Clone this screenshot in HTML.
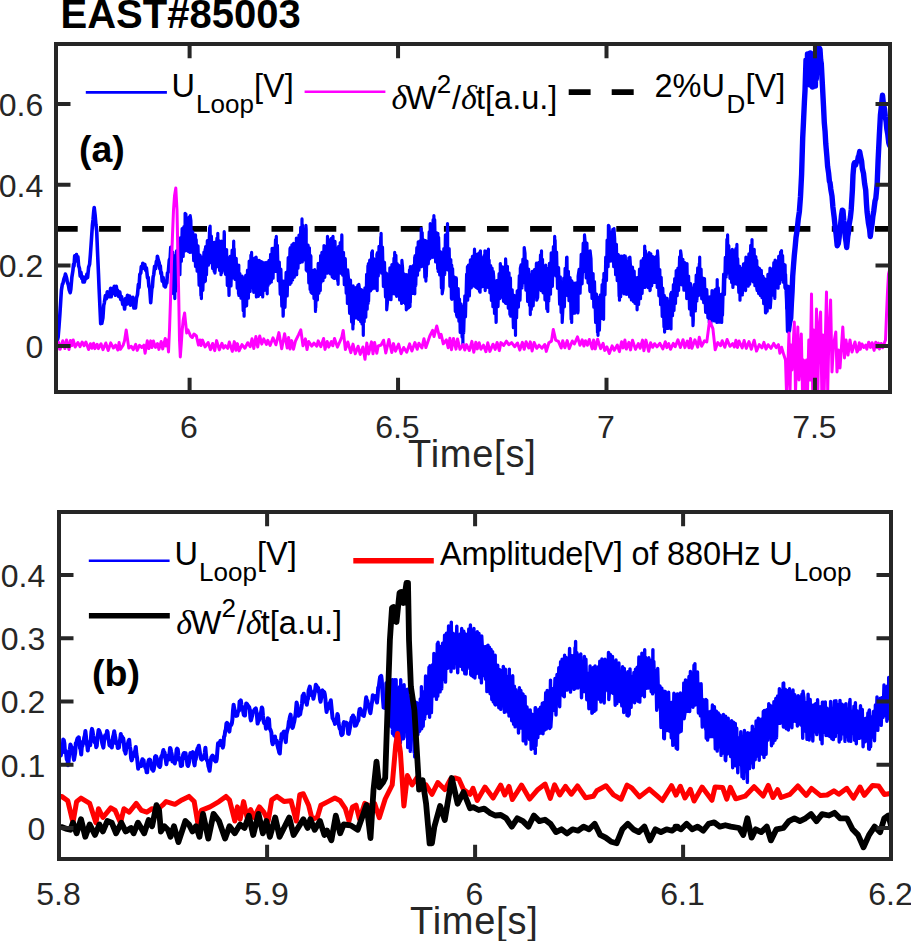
<!DOCTYPE html>
<html><head><meta charset="utf-8"><title>EAST#85003</title><style>html,body{margin:0;padding:0;background:#fff;width:911px;height:941px;overflow:hidden}</style></head><body>
<svg width="911" height="941" viewBox="0 0 911 941" style="display:block;font-family:'Liberation Sans',sans-serif">
<rect width="911" height="941" fill="#fff"/>
<defs><clipPath id="ca"><rect x="56" y="44" width="834" height="348"/></clipPath><clipPath id="cb"><rect x="59" y="512" width="832" height="347"/></clipPath></defs>
<text x="60.5" y="28.3" font-weight="bold" font-size="40" fill="#000">EAST#85003</text>
<g clip-path="url(#ca)"><path d="M56 228.9H890" stroke="#000" stroke-width="5.6" stroke-dasharray="21.7 21.4" fill="none"/>
<path d="M56.5 346.4L57.3 340.5L58.1 337.4L59 326.5L59.8 315.3L60.8 299.7L61.4 290.1L62.4 284L62.9 283.7L64 278.6L64.9 276.5L65.4 274.1L65.9 275.6L66.6 277.9L67.3 281.9L68.4 285.3L69.2 289.9L70.2 292.7L70.8 289.5L71.9 276.9L72.9 270.8L73.5 264.2L74 266.2L74.7 255.9L75.5 259.1L76.5 254.6L77.1 261.2L77.9 256.8L78.6 265.6L79.5 268.5L80.2 276.1L80.9 272.3L81.8 278.4L82.5 277L83 282L83.6 277.1L84.3 282L85.3 278.5L86.2 278.5L86.9 274.1L87.6 277.6L88.6 267.4L89.6 264.3L90.4 254.5L91.2 243L92.4 225.1L93 220L93.7 211.6L94.2 207.5L95.1 214.9L95.9 224.3L96.7 231.3L97.5 251.4L98.5 273.9L99.1 288.9L100.1 310.7L100.7 323.6L101.8 323.3L102.9 317.9L103.7 305.6L104.3 303.1L105.4 295.5L106.3 298.8L107.3 291.7L108 296.6L108.9 292.3L109.6 296.7L110.6 288.4L111.2 296.8L111.9 289.9L112.5 293.6L113 288.2L113.7 293L114.3 286.4L115.4 295.3L116.3 286.4L117.1 292.8L117.6 290.3L118.7 296.4L119.8 292.1L120.7 299.4L121.6 296.7L122.7 304.3L123.6 301.2L124.6 309L125.5 298.6L126.6 304.3L127.5 295.2L128.6 303.4L129.6 296L130.4 305.2L131.1 298L132 303.7L132.9 297.4L133.9 308L134.7 299.9L135.5 307.9L136.5 298.1L137.5 294.5L138.4 284.4L139 287.7L139.8 274.5L140.8 272.8L141.3 266.6L142.2 268.7L142.8 263.2L143.7 267.9L144.8 264.5L145.7 270.3L146.4 268L147.5 277.9L148.2 277.3L148.9 286.4L149.7 288.3L150.7 302.7L151.8 288.8L152.4 287L153.1 277.2L153.8 274.3L154.6 266.2L155.6 268.5L156.4 261.3L156.9 264.1L157.4 256.2L158.3 260.2L159.2 262.8L159.8 268.7L160.3 265.8L160.9 273.6L161.4 272.4L162.2 281.1L163.1 277.4L164.2 286L164.8 282.4L165.4 286.9L166.2 283.1L166.8 283L167.5 273L168.3 272.2L169.3 260.1L170.2 257.8L170.8 247.2L171 251.8" stroke="#0000ff" stroke-width="3.6" fill="none" stroke-linejoin="round"/>
<path d="M171 251.8L172 285.9L172.7 252.1L173.5 293.6L174.6 260.2L174.8 298.6L175.1 255.6L175.5 291.4L176.5 250.8L177.4 285.2L178.5 244.5L179.6 274.6L179.6 241.2L179.9 274.7L180.6 237.5L181.4 261.3L182.1 228.7L183.2 256.4L183.9 226.6L185 250.8L185.1 213.3L185.4 250.8L185.9 214.1L186.7 247.7L187.4 218.8L188.1 251.3L189.1 217.2L189.9 252.4L190 249.3L190.2 215.7L190.9 220.8L191.5 252.2L192.7 231.8L193.7 260.6L194.5 235.2L195.5 266.4L195.5 234.9L195.8 266.7L196.2 239.5L197.1 271.1L198 245.8L199.1 285.2L200 255L200.9 295.5L201.1 258.8L201.4 298.6L201.9 257L202.9 290.3L203.9 252.2L204.6 281.8L205.1 249.2L205.4 281.1L205.6 246.7L206.5 274.8L207.3 240.7L208.4 265.2L209.6 227.7L209.8 262L210.1 226.1L210.7 262.6L211.4 236.2L212.6 268.4L213.3 242.7L214.1 271.3L214.6 242.8L214.8 242.3L214.9 273.1L215.7 264.7L216.9 238.2L217.6 266L217.8 233.3L218.1 266.7L218.6 240.4L219.6 270.4L220.5 242.2L221 274.7L221.3 241.2L221.5 273.1L222.6 242.5L223.3 270L224.2 231.7L224.4 234.1L224.5 269.9L225.6 274.4L226.6 249.6L227.3 285.4L228.1 257.9L229 295.4L229.1 294.7L229.3 258.8L230.2 256.3L231 286L232.1 250.2L233.1 273.7L233.7 241.2L234 277.9L234.2 248.7L235.1 279.4L236.2 258.3L237.2 288.1L238 266.3L238.5 293.8L238.8 265.1L238.9 295.5L239.9 273.7L241 298.2L242.1 276.1L243.2 310.8L243.9 278.9L244.1 316.2L244.4 277.9L244.7 307.1L245.7 275.4L246.6 305.8L247.5 270L248.4 298.2L249.2 261L250.2 291.4L250.9 255L251.3 287.5L251.6 252.4L251.9 284L252.9 260.6L253.7 292.3L254.6 258L255.4 291.3L256.1 257.2L256.2 258.2L256.4 297L257 289.8L257.6 260L258.4 296.3L259.3 260.4L260.4 294.4L261.4 261.7L262.3 293.7L262.4 262L262.7 297L263.4 262.9L264.2 290.4L265.3 262.7L266.2 290.1L267.1 265.5L267.2 293.8L267.5 262L268.1 285.5L269 260.4L269.8 283.1L270.6 254.4L271.4 281.9L272.1 248.3L273.1 278.1L273.7 248L274.5 269L275.5 239.7L276 271.5L276.3 236.4L276.6 269.1L277.4 245.3L278.3 280.8L279.3 262L280.2 294.2L280.9 269.2L281.8 306.1L282.6 283.1L283.1 316.2L283.3 314.5L283.4 281.1L284.1 283L285 307.3L286.1 272.4L287.2 295.9L288.2 257.6L288.9 283.6L290 248.5L290 284.3L290.3 247.6L291.1 282.7L291.9 244.8L292.6 279.9L293.6 243.4L294.3 277.2L295.1 245.8L296.1 274.9L296.4 238L296.7 274.7L297.1 238.6L298 268.2L299 235L299.9 262.7L300.7 227.4L301.6 260.7L302 218.9L302.3 262L302.5 224.9L303.3 256.8L304.2 229.4L305.2 260.1L305.9 225.3L306.2 229.4L306.2 269.9L307 271L308.1 245.2L308.8 283L309.4 247.8L310.1 289.4L310.7 255.6L310.9 256.4L311 292.2L311.9 293.2L313 270.5L314 298.4L314.7 269.7L315.5 311.4L315.8 271.5L315.8 307.4L316.6 273.1L317.4 300L318.2 263.4L318.9 293.2L320 263.4L320.3 290.6L320.6 255.6L321.1 282.3L321.9 252.4L323 280.6L324 245.6L324.8 277.3L325.8 246.3L326.9 273.2L327.5 236.4L327.7 242.3L327.8 273.1L328.9 271.7L329.6 240.2L330.5 274L331.3 238.3L332.2 276.9L333 236.4L333.1 244.4L333.3 277.9L334.2 278.4L335 241.4L336.1 278.1L336.8 248.3L337.7 281L337.8 247.6L338.1 284.3L338.6 246.4L339.4 271.9L340.2 242.6L341.1 273.3L341.8 234.9L341.9 236.4L342.1 271.5L342.7 275.2L343.5 252.3L344.3 284.6L345.3 258.7L346.2 293.2L346.9 270.5L347.4 303.4L347.6 303.4L347.7 269.9L348.7 280.6L349.6 313.3L350.5 280.1L351.6 321.9L352.3 288.5L352.9 328.9L353.2 285.9L353.3 324.4L354.2 293.3L355.1 317.9L355.9 287.5L356.7 317.8L357.8 285.4L358.5 319.3L358.7 315.6L358.8 284.3L359.6 289.7L360.6 321.4L361.4 289.5L362 324L363.1 292.5L363.3 335.3L363.6 290.6L364.2 321.6L364.9 287.9L365.8 317.2L366.6 274.4L367.2 309.1L367.9 265.9L368.1 303.4L368.4 263.5L368.6 301.2L369.7 260.2L370.6 290.8L371.7 252.4L372.1 289.1L372.4 250.8L372.5 283.1L373.6 258.6L374.5 288.2L375.3 259.4L376.3 287.4L376.9 254L377.2 290.6L377.4 252.5L378.3 276L379 246.4L379.7 268.2L380.8 236.8L380.8 266.7L381.1 233.3L381.6 273.2L382.5 247.2L383.4 286.5L384.5 262.4L385.5 296.9L386.4 273.1L386.6 275.7L386.7 309.8L387.5 301.8L388.3 274.6L389 299.2L389.9 267.9L391 299.7L391.9 264.6L392.9 293.7L394 258.1L394.4 293.8L394.7 252.4L395.1 290.3L395.9 255.4L396.6 296.3L397.2 263.6L397.9 294.6L398.6 265.2L399.6 300L400.6 266.1L401.6 303.4L401.8 302.8L401.9 260.4L402.6 268L403.4 302.4L404.4 274L405.5 304L406.3 279.3L406.3 309.8L406.6 274.7L407.2 308.6L407.8 275.1L408.6 307.6L409.5 269.9L410 306.6L410.3 266.7L410.3 302.4L411.2 266.9L412.4 293.5L413.2 265.6L414 289L414.7 257.2L414.8 293.8L415.1 255.6L415.8 285.4L416.8 247.7L417.5 275.1L418.2 241.8L419 270.1L420 240.9L421.1 264.9L421.2 228.5L421.5 266.7L422.2 232.6L422.8 264.5L424 240.2L424.8 277.1L425.6 240.5L425.9 281.1L426.2 241.2L426.3 276.6L427.4 241.7L428.3 263.8L429.2 231.9L429.9 258.8L430.2 251.7L430.2 223.7L431.3 225.1L432.2 257.3L433.1 219.7L433.8 256.5L433.9 215.7L434.2 257.2L434.7 219.7L435.6 261.9L436.8 232.9L437.7 268.7L437.9 233.3L438.2 271.5L438.6 237.4L439.7 274.9L440.7 251.9L441.4 288L441.9 254L442.1 254.2L442.2 293.8L443.1 288.2L443.8 248.7L444.7 274.4L445.4 234.9L446.6 269.4L447.5 223.7L447.6 228.7L447.8 269.9L448.3 267.4L449.2 248.7L449.9 286.3L450.8 259.5L451.4 298.6L451.7 265.1L451.9 299.3L452.6 268.6L453.4 298.6L454.5 277.1L455.3 311.5L456.2 277.9L456.4 279.1L456.5 314.6L457.1 316.8L458.2 288.5L458.9 321.1L459.5 299L460.2 332.5L461 303.8L462.1 337.1L462.6 309.8L462.9 344.8L463 306L463.7 332.9L464.8 295.8L465.5 316.8L466.6 274.1L467.3 300.2L467.4 266.7L467.7 300.2L468.4 265.2L469.4 295.9L470.4 259.8L471.3 287.8L472.4 256.4L473.6 285.9L474.5 249.2L474.7 255.7L474.8 285.9L475.9 287.2L476.7 254.3L477.8 288.6L478.8 253.1L479.5 291.3L480.1 251.7L480.1 292.2L480.4 250.8L481.2 287.3L482.3 257.9L483.2 286.5L484.2 255.4L484.8 284L484.9 250.8L485.2 290.6L485.6 252.8L486.6 284L487.6 250.8L488.1 287.5L488.4 249.2L488.4 284.1L489.1 260L489.9 292.8L490.7 265.7L491.4 300.4L492.1 268.2L492.9 306.6L493 300.5L493.2 271.5L493.7 277L494.5 313.5L495.3 281.6L496.1 322.5L496.2 320.8L496.4 284.3L496.8 280.6L498 306.6L499.1 273.6L500 298.6L500.2 298L500.3 263.5L500.8 270L501.8 295.5L502.6 266.9L503.5 301.3L504.2 268L505.2 302.8L505.6 258.8L505.9 265.5L505.9 303.4L506.7 303.4L507.4 266.4L508.3 308.2L509 272.8L509.9 314.5L510.4 277.9L510.5 281L510.7 316.2L511.2 314.5L512.2 289.8L513.4 327.6L514.2 295.3L514.9 328.1L515.2 297L515.5 335.3L515.6 302.1L516.6 318L517.2 290.8L518.4 307.2L519.3 275.6L520 300.2L520.2 294.1L520.3 268.3L521.1 264.8L522 287.9L522.9 259.1L523.9 282.7L524 281.6L524.2 247.6L525 253.2L525.9 290.2L526.9 261.1L527.6 301.5L528.6 269L529.5 305.5L530 274.7L530.3 314.6L530.4 274.9L531.3 309.5L532.2 271.4L533.2 305.8L534.4 269.7L535.4 295.9L536.4 263.5L536.5 263.2L536.7 300.2L537.7 297.4L538.8 262.4L539.6 289.1L540.5 254.9L541.2 290.6L541.5 250.8L541.5 289.2L542.5 259.4L543.1 292.8L544.1 266.2L545 300L545.7 265.2L546.8 309L547.5 269.9L547.8 311.4L548 268.3L548.8 300.9L549.4 263.4L550.5 294.2L551.2 252.8L552.4 286.3L553.4 246.6L554.1 274.3L554.7 236.4L555 274.7L555.1 240.1L555.9 276L556.6 252.1L557.5 288.3L558.6 267.7L559.6 304.2L560.3 276.9L561.1 312.5L561.9 284.3L562 284.1L562.2 322.5L562.8 311.2L563.7 278L564.4 306.8L565.1 268.3L565.8 292L566.6 257.3L566.7 293.8L567 257.2L567.4 295.6L568.4 271.3L569 300.7L570.1 277.5L571.1 319.2L571.4 281.1L571.7 322.5L571.8 280.8L573 313.5L573.8 283L574.7 313.1L575.4 283.1L576.1 312L577.1 282.6L577.8 313L578.1 310.8L578.1 276.3L579.1 269.4L580.1 293.1L581.2 254.4L582.1 283.8L583.2 243.2L584.2 271.5L584.3 266.7L584.5 234.9L585.2 242.6L586.2 278L586.9 243.1L588 282.8L588.8 252.9L589.8 290.6L590 291.5L590.1 250.8L591 258.8L592 298.4L593.1 273.6L593.8 307.1L594.5 281.6L595.6 322.4L596.5 294.2L597.5 332.5L597.7 297L598 335.3L598.3 301.6L599.4 330.1L600.4 294.9L601.3 318.4L602.1 284.5L603.2 318.7L603.3 279.5L603.6 319.3L603.9 273.4L605 294.8L605.7 257.2L606.5 280.6L607.1 240.1L608.1 266.7L608.1 263.8L608.4 225.3L609.1 226.2L610 261.1L610.8 232L611.8 261L612.8 229.3L613.7 266.7L613.9 262.3L614 228.5L614.7 238.5L615.6 274.7L616.4 244.3L617.2 280.7L618.1 254.4L619.1 296.3L619.2 255.6L619.5 300.2L619.8 260.1L620.7 296.6L621.6 256L622.5 290.2L623.4 256.1L624 293.8L624.3 255.6L624.5 290.4L625.3 256.2L626.3 294.3L627.4 261.3L628.2 294.1L628.8 257.8L629.6 297L629.8 290.7L629.9 257.2L630.6 267.4L631.4 300L632.5 267.2L633.3 301.4L634.2 271.2L634.9 303.3L635.9 278.1L636.6 304.4L636.8 277.9L637.1 309.8L637.5 277.7L638.6 304.4L639.5 269L640.5 298.7L641.2 260.9L642.1 293.5L643.3 258.3L644.3 286.6L644.7 246L645 287.5L645.4 250.5L646.4 281L647.1 254.8L648.2 287.6L649.1 252.6L650 290.6L650.2 289.9L650.3 254L650.8 253.8L651.7 285.8L652.8 256.7L653.5 282.5L654.6 257.3L655.7 282.5L656.7 255.9L657.2 287.5L657.4 281.5L657.5 250.8L658 258L658.9 295.8L659.8 269.5L660.6 304.6L661.2 277.4L662.2 316.4L662.8 288.2L664 326.9L664.3 295.4L664.6 332.1L665 297L666.1 328.4L667.2 298.3L668.3 328.4L669.4 301.1L670.5 322.9L670.7 293.8L671 328.9L671.3 292.4L672.5 315.6L673.4 284.6L674 310.5L674.7 278.5L675.5 303.5L676.2 270.6L677.2 295.6L677.9 268L678.6 290.5L679.6 256.9L680.3 284.3L680.6 279.1L680.6 250.8L681.2 255.2L682 285L682.9 259.4L683.9 290.1L684.8 262.7L685.5 290L686.4 265.4L686.7 298.6L687 263.5L687.5 296.7L688.6 276.1L689.5 308.9L690.6 283.7L691.2 315.1L692.2 288.7L693 325.7L693.3 319.9L693.3 290.6L694.4 284.5L695.4 310.9L696.2 275.1L696.9 300.9L697.7 267.8L698.4 295.7L699.3 263.5L699.4 293.8L699.7 257.2L700 294.2L701.1 269.1L701.7 298.8L702.9 278.1L703.7 302.7L704.5 278.6L705.6 312.3L706.8 289.7L707.9 317.6L709 297L709 300.2L709.3 322.5L709.7 322.5L710.5 296.5L711.1 322.4L712 290.5L712.8 319.1L713.5 292L714.3 320.9L715.1 289.5L715.8 316.6L716.5 288.5L716.9 322.5L717.2 279.5L717.4 317.1L718.3 287.9L719.3 322.1L720.1 294.7L720.8 321.8L721.5 296.6L721.7 322.5L722 293.8L722.5 315.1L723.6 274L724.5 294.5L725.3 257.4L726.2 276.9L726.9 239.4L727.3 271.5L727.6 234.9L728.1 272.8L728.8 245.7L729.9 278.3L730.8 250.9L731.6 282.5L732.3 249.4L732.9 287.5L733.2 250.8L733.2 284.6L734.3 250.7L735.1 283.8L735.8 248.7L736.8 283.7L736.9 244.4L737.2 284.3L737.7 258.6L738.8 292.5L739.7 266.3L740 300.2L740.3 268.3L740.4 294.9L741.4 268.7L742.4 294.9L743.5 263.9L744.5 288.3L745.3 262.7L745.6 290.6L745.9 257.2L746.2 286.5L747.2 259.3L748.2 286.1L748.9 253.8L749.7 284.1L750.7 245.4L751.7 280.9L752 239.6L752.3 281.1L752.6 249.7L753.3 281.9L754.2 249.4L754.9 285.6L755.8 256.5L756.8 289.3L756.8 260.4L757.1 290.6L757.6 266.9L758.6 293.4L759.4 268.3L760.3 295.5L761.3 270.3L762 297.7L763 276.3L763.7 303.6L764.7 278.9L765.5 312.8L765.5 279.5L765.8 313L766.3 280.1L767.2 311.1L767.9 274.4L768.9 301.9L770 268.1L770 270.8L770.3 308L770.9 299.5L771.9 269L772.9 295.1L773.8 262.7L774.8 298.4L774.9 291.3L775.1 260.1L775.6 260.7L776.6 287.7L777.3 261.4L778.1 288.2L778.7 256.3L779.6 283.5L780.6 251.9L781.2 279.3L781.5 250.6L781.7 275.1L782.6 255.6L783.2 282.2L784 264.4L784.9 287.6L785.1 264.9L785.4 288.8L785.6 274.4L786.7 308.2L787.4 287.2" stroke="#0000ff" stroke-width="3.2" fill="none" stroke-linejoin="round"/>
<path d="M787.4 287.2L788.5 330.7L789.5 322.9L790.7 318.1L791.4 303.2L792.1 291L792.7 276.1L793.4 266.9L794.3 255.5L795.2 246.5L796 237.5L797.2 229.7L798.3 218.8L799.4 211.3L800.5 196.5L801.6 174.4L802.7 137.8L803.5 121.6L804.4 102L805 90.8L806 60L806 60.1L806.3 80L807 80L807.5 54L807.8 83L808.1 54.4L808.9 81.2L809.9 53.8L810 85L810.3 53L810.9 84.5L812 55.5L812.5 87L812.7 82.9L812.8 56L813.5 54.5L814.6 83.7L815.3 52.4L815.4 86L815.7 50L816.3 78.9L817.3 47.5L817.5 70L817.8 47L818.1 66.1L818.8 48.7L819.5 48.3L820 49.4L820.7 60.2L821.3 63.8L822.3 83L823.5 106L824.3 122.8L825.1 131.8L825.8 144.1L826.9 156.8L827.6 166.4L828.6 173.1L829.4 181.2L830 182.7L830.8 189.2L832 196.1L832.9 207L834.1 216.6L835.3 228.6L836 233.3L837.2 245.7L838.3 243.6L839.1 237.9L839.8 230.7L840.3 227.2L841.5 215.3L842.3 210.1L843 210.7L843.8 220.8L844.5 226.4L845.3 236.9L846.1 242.4L846.7 247.5L847.8 236.2L848.4 233.1L849.2 224.3L850.4 217.3L851.2 209.7L852.4 190L853 174.9L853.9 164.4L854.5 162.8L855.6 165L856.5 161.7L857.5 161.1L858.2 157.1L858.7 156.5L859.7 151.6L860.5 156.2L861.6 161L862.3 168.5L863.5 173.4L864.6 183.5L865.7 190L866.5 204.1L867.1 212.2L868.4 222.9L869.6 229.3L870.3 236.5L871.3 228L872.1 223.7L872.8 216.9L873.8 210.7L875 201.1L875.8 198.4L876.4 192.3L877.2 183.1L878.1 160.3L879.3 135.9L880.4 115.3L881.5 105.2L882.5 95.3L883.5 104.7L884.5 108.8L885.3 116.6L886.2 122.1L886.8 128.7L887.7 133.7L888.8 142.9L889.6 145.5" stroke="#0000ff" stroke-width="5.4" fill="none" stroke-linejoin="round" stroke-linecap="round"/>
<path d="M56 353.3L58.6 342.3L60.1 349.3L62.8 340.8L64.9 348.5L66.5 339.9L69 349.5L70.4 340.4L71.9 345.6L73.2 339.9L75.2 347L77.9 342.5L80 346.6L82.1 342L84.1 345.7L85.9 342L88.6 349.5L90.4 343.8L91.9 348.3L93.6 343.2L94.9 348.6L97.1 344.3L98.4 348.6L101 343.8L103 349.7L105.8 343L108.2 350.5L110.7 342.9L113.4 348L115.6 345.1L117.9 350L119.1 342.6L120.5 349.2L123.1 345.2L124.5 340.9L126.2 329.9L128.8 348.1L131.3 346.3L133.3 349.6L135.7 344.4L137.2 350.4L139.5 345.3L141.7 347.4L143.9 345.2L145.1 353.2L147.3 340.8L148.9 348.6L150.7 340.9L151.9 347.6L153.4 341L155.4 347.4L157.5 343.6L158.9 349.4L161.2 341.5L162.7 349L165.2 338.5L166 346L167.5 340L168.5 352L169.5 330L170.5 300L171.5 262L172.5 235L173.5 210L174.5 196L175.8 188L177 210L178 260L178.8 300L179.5 340L180.3 357L181.2 345L182.2 330L183.2 320L184.6 313L185.5 322L186.7 333L188 330L189.3 333L190.5 336L192.3 337.5L194 334L196.4 336L198.4 345L200 340L201 345.5L202.5 340.1L205.1 346.9L208.1 342.5L210.5 349.7L212.6 343.5L214.7 350.6L216.6 340.6L219.3 349.9L221.9 343.3L223.6 348.1L225.4 345.7L227.7 348.3L229.3 342L232.3 351.4L234.3 341.6L235.9 350.3L237.4 343.6L239.1 350.9L242 344.6L244.9 348.2L247.7 342.7L250.2 346.7L252 338.8L253.8 348.6L255.9 336.5L257.7 347.1L259.7 335.9L261.8 344.1L263.7 338.9L266.4 344.4L267.8 340.3L270.1 345.5L273 337.8L275.9 344.8L278.9 332.6L281.7 348.7L284.6 333.8L287.2 347.9L288.6 337.4L290 349.1L291.7 340.6L293.5 349.2L295.5 341L298.5 334.9L300.8 329.9L303 345.8L305.4 338.9L307 349.6L308.7 341.5L311.8 346.1L313.9 343.1L316.8 346.2L318.2 340.9L320.8 346.7L323.6 338.5L325 349.4L327.2 341.5L328.7 347.1L331.4 341.5L332.8 345.8L334.5 338.5L337.4 347.1L339.7 342L341.8 337.1L343.2 330.4L345.4 349.5L347.8 342L350.8 352.6L353 344.1L355.3 353.8L358.1 346.2L360.2 354.5L362.9 347L365 359.3L366.8 343.1L368.6 353.9L371.5 341.9L373 353.8L374.6 342.5L376.8 353.3L378.2 346L381.1 345L383.6 340.2L385.8 353L388.9 339.4L391.8 352.5L393.5 343.6L395.5 351.2L398.6 344.1L401.1 353.7L403.7 347.5L406.7 352.2L409.6 343.9L411.9 351L414.9 342.6L417.2 349.3L418.9 343.2L421.9 347.9L424 338.7L425.9 347.6L427.8 342L429.8 336L432.6 330.4L434 336.5L436.8 326L439.6 337.5L441.1 334.4L443.3 343.8L446.3 339.9L448.2 347.7L449.9 338.2L451.5 349.8L453.5 338.5L456 349.1L457.5 338.9L460 349.3L463 344.5L464.8 350L466.5 344.6L469.4 350.5L471.9 341.4L473.8 352.3L475.8 342.2L477.3 348.9L479.2 342.8L480.9 349.2L483.5 345.2L485.9 351.6L487.8 342.8L489.9 351.4L493 344.2L495.2 349.4L497.1 342.5L499.3 350.6L500.9 342.6L503.7 345.4L506.5 341.2L508.8 344.7L511.6 342.6L514.6 346.7L517.5 343L519.8 350.1L522.4 342.3L524.2 349.3L526.1 341.7L528.7 348L530.3 341.9L532.1 351L534.1 342.5L536.8 348.3L539.1 345.2L542 348.2L544.8 344.5L546.3 351.4L548.9 342.7L551.5 341.1L553.3 329.6L555.7 340.1L558.4 341.3L561.2 348L562.7 340.8L564.9 347.7L567.2 340.6L569.2 348.6L572.3 341L574.4 344L577.5 336.8L580 345.3L582.2 339.9L583.9 346L585.5 340.7L587.4 345.3L589.3 339.5L592.2 348.9L593.6 339.9L595.3 348.9L597.6 339.3L600.6 348.6L603.1 343.3L604.7 350.4L607 346.9L609.3 353.5L612.1 345.9L614.3 350.3L617.3 345.1L619.4 351.6L621.6 341.8L623.1 347.9L624.9 340L626.3 349.1L628.9 342.4L630.5 349.9L632.5 340.2L635.5 349.4L638.3 343.6L640.1 348.3L642.5 340.1L643.9 350.7L645.9 340.1L648.7 351.3L650.6 342.8L652.7 347.3L654.6 343.7L657 346.9L659.8 343.3L662.8 348.9L665.3 341.7L666.8 347.6L668.7 343.6L670.5 349.3L673.3 343.4L675.2 346.7L677.9 339.8L680.4 347.5L683 339.7L684.9 347.6L687.3 341.1L689 347.8L690.5 338.5L691.9 348.3L694.9 339.8L697.7 347.2L699.3 337.3L701.6 346.2L704.5 340.8L706.8 341.9L709.5 321.3L710.9 323.8L712.9 328.6L715.2 349.8L717.8 342.6L720.6 345.7L722.2 340.8L724.8 347.3L727.1 339.5L729.9 346.3L732.7 343.7L734.4 347L735.9 340.2L737.5 347.5L739.1 341L742.2 348L744.1 340.5L746.3 348.4L749 341.6L751.3 349.3L754.2 340.2L756.5 351.1L759.3 344.6L761.9 347.9L763.9 342.4L766 349.1L768.1 344.7L771 348.4L773.7 343.4L776.1 347.6L778.4 344.6L779.9 353.2L781.6 347.3L783.8 354.8L785.5 360L786.5 392L788 362L789 333L790 392L791 345L792 370L794.3 322L795.5 392L797.8 327L799 380L801.3 334L802.5 392L803.5 360L805 392L806.5 360L807.5 392L808.8 340L810 380L811.5 294L812.7 392L813.8 330L815 392L816.5 309L817.8 392L819 330L820.6 312L821.8 392L823 335L824.2 392L825.3 340L826.5 292L827.7 392L828.8 340L830.6 300L832 372L833.5 345L835.8 332L837 372L838.5 350L840 368L842.8 327L844.5 358L846 340L848 355L850 340L852 352L855 342L857 352L858 350.4L859.3 342.7L860.3 349.2L862 344L863.9 347.4L865.7 345.2L866.8 349.2L868.7 342.2L870.5 347.4L872.1 342.7L874.1 350.4L875.7 342.2L877.1 347.6L878.5 343.1L879.5 348.9L881.2 343.5L882.7 347.8L885.5 340L886.5 315L887.5 292L888.5 274L890 268" stroke="#ff00ff" stroke-width="3" fill="none" stroke-linejoin="round"/></g>
<rect x="56" y="44" width="834" height="348" fill="none" stroke="#262626" stroke-width="4"/>
<path d="M189.6 392V377.8M189.6 44V58.2M398.05 392V377.8M398.05 44V58.2M606.5 392V377.8M606.5 44V58.2M814.95 392V377.8M814.95 44V58.2M56 346H70.5M890 346H875.5M56 265.4H70.5M890 265.4H875.5M56 184.7H70.5M890 184.7H875.5M56 104.1H70.5M890 104.1H875.5" stroke="#262626" stroke-width="4" fill="none"/>
<g font-size="32" fill="#262626"><text x="189.0" y="437.5" text-anchor="middle">6</text>
<text x="397.4" y="437.5" text-anchor="middle">6.5</text>
<text x="605.9" y="437.5" text-anchor="middle">7</text>
<text x="814.4" y="437.5" text-anchor="middle">7.5</text>
<text x="43.2" y="357.8" text-anchor="end">0</text>
<text x="43.2" y="277.2" text-anchor="end">0.2</text>
<text x="43.2" y="196.5" text-anchor="end">0.4</text>
<text x="43.2" y="115.9" text-anchor="end">0.6</text></g>
<text x="471.9" y="466.7" font-size="38" text-anchor="middle" textLength="127.6" lengthAdjust="spacing" fill="#262626">Time[s]</text>
<g font-size="32.5" fill="#000">
<path d="M85.8 92.4H166.9" stroke="#0000ff" stroke-width="2.6"/>
<text x="171.5" y="96.5">U</text><text x="196.0" y="112.7" font-size="26">Loop</text><text x="254.1" y="96.5">[V]</text>
<path d="M304.6 91.7H385.4" stroke="#ff00ff" stroke-width="2.6"/>
<text x="391.4" y="109.3" font-family="Liberation Serif" font-style="italic" font-size="34">&#948;</text><text x="405.9" y="108.9">W</text><text x="436.7" y="92.6" font-size="26">2</text><text x="452.1" y="108.9">/</text><text x="461.0" y="109.3" font-family="Liberation Serif" font-style="italic" font-size="34">&#948;</text><text x="476.0" y="108.9">t[a.u.]</text>
<path d="M568.7 92.1H590.6M611.7 92.1H633.7" stroke="#000" stroke-width="5.6"/>
<text x="654.5" y="96.5">2%U</text><text x="726.4" y="112.7" font-size="26">D</text><text x="745.5" y="96.5">[V]</text>
</g>
<text x="79" y="161.8" font-weight="bold" font-size="37.5" fill="#000">(a)</text>
<g clip-path="url(#cb)"><path d="M59 754.9L59.6 752.1L60.2 755.1L60.8 755.5L61.4 752.4L62 752.2L62.6 750.3L63.2 739.6L63.8 740.2L64.4 743.4L65 752.3L65.6 750.6L66.2 754.5L66.8 759.4L67.4 759L68 765.3L68.6 761.6L69.2 753.9L69.8 749.8L70.4 744.5L71 746.2L71.6 747.8L72.2 747.7L72.8 751.4L73.4 756.6L74 759.9L74.6 756.5L75.2 752.9L75.8 743.2L76.4 743.1L77 739.9L77.6 738.3L78.2 739.2L78.8 737.3L79.4 743L80 748.2L80.6 749.4L81.2 754.5L81.8 747.1L82.4 745.9L83 741.5L83.6 741.8L84.2 737.6L84.8 735.7L85.4 731.1L86 736.4L86.6 743.8L87.2 745.3L87.8 750.6L88.4 743.5L89 743.5L89.6 742L90.2 745.2L90.8 739.8L91.4 731.9L92 728.9L92.6 731.2L93.2 735.8L93.8 738.8L94.4 741.8L95 742.8L95.6 741.9L96.2 747.2L96.8 745.9L97.4 737.8L98 734.1L98.6 729.9L99.2 730.7L99.8 732.4L100.4 734.1L101 735.8L101.6 739.8L102.2 743.2L102.8 745.5L103.4 747.6L104 741.8L104.6 737.4L105.2 735.3L105.8 737.2L106.4 735.9L107 731L107.6 732.2L108.2 738.5L108.8 740.4L109.4 745.1L110 745.6L110.6 742.2L111.2 746.1L111.8 747.4L112.4 742.9L113 736.8L113.6 735L114.2 731.3L114.8 735.2L115.4 737.9L116 743.3L116.6 742.7L117.2 743.8L117.8 748L118.4 746.9L119 747.4L119.6 741.7L120.2 738.9L120.8 734L121.4 737.7L122 736.5L122.6 741.4L123.2 738.1L123.8 742.2L124.4 750.2L125 751.3L125.6 753.6L126.2 748.6L126.8 746.9L127.4 746.1L128 743.2L128.6 740.8L129.2 739.8L129.8 746.3L130.4 749.1L131 757.8L131.6 760.4L132.2 759L132.8 755.7L133.4 756.3L134 755.4L134.6 751.7L135.2 750.9L135.8 746.9L136.4 753.9L137 757.3L137.6 763.2L138.2 768.7L138.8 765.3L139.4 766.1L140 766.1L140.6 765.4L141.2 765.9L141.8 761.2L142.4 759.2L143 760.3L143.6 760.2L144.2 765.6L144.8 765.3L145.4 767.8L146 768L146.6 772.2L147.2 772.3L147.8 764.9L148.4 761.4L149 759.8L149.6 759.5L150.2 760L150.8 763.8L151.4 763.9L152 769.4L152.6 768.6L153.2 770.8L153.8 769.3L154.4 765.3L155 756.9L155.6 756.1L156.2 756.5L156.8 758.3L157.4 760.9L158 760.1L158.6 765.5L159.2 766.4L159.8 766.9L160.4 765.4L161 757.8L161.6 755.9L162.2 756L162.8 752.4L163.4 750L164 753.4L164.6 752.4L165.2 757.9L165.8 760L166.4 764.2L167 759.9L167.6 756.5L168.2 755.7L168.8 759.6L169.4 754.4L170 747.9L170.6 748.9L171.2 751.9L171.8 754.5L172.4 761.4L173 759.2L173.6 760.5L174.2 761.6L174.8 763.5L175.4 759L176 756.3L176.6 749.6L177.2 748.6L177.8 749.4L178.4 755.2L179 759.9L179.6 759.9L180.2 760.3L180.8 766.1L181.4 765.6L182 765.6L182.6 758.1L183.2 754.6L183.8 753.2L184.4 753L185 755.9L185.6 753.3L186.2 758.6L186.8 759.9L187.4 765L188 766L188.6 764.3L189.2 761.5L189.8 756.5L190.4 753.1L191 756.2L191.6 753.2L192.2 753L192.8 752.1L193.4 756.9L194 762.6L194.6 765.4L195.2 759.4L195.8 759.3L196.4 753.7L197 750.4L197.6 748.3L198.2 747.3L198.8 745.7L199.4 749.3L200 753.4L200.6 757.3L201.2 759L201.8 759.6L202.4 756.6L203 758.8L203.6 756.8L204.2 756.2L204.8 752.8L205.4 747.7L206 754.8L206.6 759.4L207.2 760.7L207.8 761.7L208.4 766.2L209 768L209.6 770.7L210.2 765.2L210.8 759.9L211.4 757.2L212 756.3L212.6 755.5L213.2 756.4L213.8 758L214.4 760.1L215 759.9L215.6 761.4L216.2 761.3L216.8 758.7L217.4 750.7L218 743.3L218.6 743.5L219.2 745.2L219.8 744.2L220.4 740.7L221 742.9L221.6 743L222.2 745.7L222.8 747.6L223.4 745L224 736.8L224.6 735.7L225.2 731L225.8 729.7L226.4 723.6L227 722.9L227.6 723.5L228.2 727.9L228.8 729.7L229.4 731.6L230 726.2L230.6 725L231.2 725.1L231.8 723.6L232.4 719.4L233 710.4L233.6 704.7L234.2 708.1L234.8 710.4L235.4 713.9L236 715.9L236.6 712.6L237.2 715.6L237.8 712.4L238.4 711L239 710.6L239.6 701.5L240.2 702.8L240.8 700.4L241.4 704.6L242 708L242.6 707.1L243.2 711.6L243.8 714.8L244.4 715.6L245 715.5L245.6 708.3L246.2 703.4L246.8 703.8L247.4 704.9L248 705.6L248.6 706.5L249.2 707.3L249.8 709.7L250.4 718L251 720.4L251.6 717.8L252.2 715.4L252.8 711.3L253.4 711.5L254 711.6L254.6 709.6L255.2 708.9L255.8 708.3L256.4 711.6L257 716.5L257.6 723.6L258.2 721.5L258.8 720.5L259.4 719.3L260 715.4L260.6 713.4L261.2 711.5L261.8 707.4L262.4 708.6L263 715.9L263.6 721.1L264.2 723.2L264.8 722.8L265.4 724.1L266 728.8L266.6 726.6L267.2 723.6L267.8 718.3L268.4 721.1L269 719.1L269.6 728.1L270.2 729.4L270.8 730.7L271.4 732.8L272 741.4L272.6 744.2L273.2 743.1L273.8 742.5L274.4 741.2L275 736.5L275.6 740.7L276.2 740.5L276.8 740.8L277.4 745.1L278 747.6L278.6 749.7L279.2 752.5L279.8 753.5L280.4 744.8L281 740.4L281.6 734L282.2 736.1L282.8 734.8L283.4 732.1L284 731.5L284.6 733L285.2 739L285.8 742.1L286.4 734.4L287 731.6L287.6 729.3L288.2 727.2L288.8 721.9L289.4 719.7L290 716.5L290.6 714.6L291.2 721.5L291.8 726.3L292.4 727.9L293 726.9L293.6 724.1L294.2 721.8L294.8 718.2L295.4 715.4L296 709.5L296.6 702.5L297.2 704.9L297.8 711.6L298.4 715.7L299 713.7L299.6 713.8L300.2 714.3L300.8 710.2L301.4 708.3L302 703.5L302.6 695.6L303.2 695.4L303.8 693.7L304.4 698.6L305 701.6L305.6 701.1L306.2 699L306.8 704.8L307.4 700.2L308 698.8L308.6 690.6L309.2 688.5L309.8 686.6L310.4 690.5L311 691L311.6 695.2L312.2 693.8L312.8 695.7L313.4 698.8L314 695.9L314.6 693.2L315.2 689.3L315.8 684.8L316.4 685.7L317 688.5L317.6 687.2L318.2 688.3L318.8 691.8L319.4 693L320 699.3L320.6 701.7L321.2 698L321.8 690.9L322.4 690.3L323 692.5L323.6 691.7L324.2 692.1L324.8 694.3L325.4 699L326 706.9L326.6 712L327.2 708.5L327.8 709L328.4 705.8L329 707.9L329.6 703L330.2 703.6L330.8 700.3L331.4 706.3L332 712.5L332.6 718.4L333.2 718.8L333.8 720.6L334.4 721.6L335 723.9L335.6 722.1L336.2 722L336.8 719.1L337.4 713.9L338 715.7L338.6 723.1L339.2 726.4L339.8 728.8L340.4 727.7L341 733.3L341.6 735.2L342.2 734.6L342.8 733.7L343.4 723.6L344 722L344.6 722.5L345.2 724.8L345.8 724L346.4 722.7L347 723.7L347.6 728.5L348.2 733.7L348.8 733.9L349.4 730.6L350 727.7L350.6 722.4L351.2 721.6L351.8 717.4L352.4 718.6L353 715.5L353.6 716.7L354.2 717.5L354.8 725.8L355.4 724.5L356 725.3L356.6 724.1L357.2 722.1L357.8 721.1L358.4 720.1L359 712.5L359.6 709.2L360.2 708.8L360.8 709.7L361.4 713L362 714.5L362.6 715.1L363.2 713.9L363.8 716L364.4 713.4L365 709.4L365.6 702.1L366.2 697.2L366.8 701.4L367.4 700.9L368 705L368.6 704.6L369.2 708.3L369.8 711.2L370.4 713.3L371 709.1L371.6 704.4L372.2 701.1L372.8 695.3L373.4 698.9L374 695.9L374.6 697.7L375.2 697.7L375.8 696L376.4 700.2L377 702.5L377.6 696.6L378.2 687.7L378.8 687.1L379.4 681.9L380 677.4L380.6 676.4L381.2 675.8L381.8 680.5L382.4 691.5L383 699.9L383.6 707.5L384.2 707.8L384.8 705.8L385.4 707.3" stroke="#0000ff" stroke-width="4" fill="none" stroke-linejoin="round"/>
<path d="M385.4 707.3L386 683L386.7 713.7L387.6 685.7L388.5 719.5L389.7 687.9L390.3 726L391 692.9L392 727.7L392.2 679.7L392.5 733.5L392.7 679.7L393.9 735.4L394.6 679.7L395.2 737L396.1 679.7L396.9 733.1L397.9 690.9L398.9 729.5L399.6 686.8L400.4 742.9L400.5 733.2L400.7 679.7L401.1 695.7L402 739L402.7 687.1L403.5 738.7L404.1 684.7L405.3 730L406.2 702.2L407.1 737.3L407.4 689.1L407.7 747.6L407.9 702.8L408.6 739.3L409.6 705L410.3 751.4L410.9 696.1L412 738.6L413.1 715.4L414.2 752.4L414.4 703.1L414.7 756.9L415 701.7L415.8 751.1L416.9 702.6L417.9 734.8L419 703.4L419.7 731.2L420.3 698.9L421.3 723.1L421.4 686.8L421.7 728.8L422 696.8L423.2 726.3L424 691.7L424.7 718.9L425.6 676L426.3 713.8L427.4 682.4L428.1 705.5L429 667.3L429.6 717.2L429.7 702.7L429.9 665.7L430.5 674.4L431.4 712.6L432.6 664.6L433.2 696.1L433.9 653.4L434.9 695.9L435.8 657.2L436.5 699.4L437.3 643.8L437.8 696.1L437.9 690L438.1 642.3L439 654.9L440.1 691.9L440.8 646.4L441.7 688.9L442.6 643.2L443.4 679.3L444.6 635.1L445.5 682.1L446.5 633.1L447.7 668.2L448.6 625.9L449.8 665.4L450.6 625.9L451 671.8L451.3 622.1L451.8 664.7L452.9 633.2L454 668.1L454.8 634.2L455.8 663L456.8 626.1L457.7 672.8L458.4 635.3L459.2 663.2L460.2 634L460.9 666.4L461.7 628.5L462.7 669.7L463.8 631.3L464.8 673.8L465.5 634L466.2 674L467.1 638.2L467.9 666.4L468.8 628.9L469.9 668.6L470.4 624.9L470.6 637.4L470.7 674.6L471.4 675.4L472.3 633.6L473.2 676.7L473.9 628.4L474.9 678L475.6 635.3L476.4 673.7L477.3 631.8L478.2 672.9L479 633.5L479.8 677.7L480.6 638.6L481.4 682.9L481.6 673.1L481.7 635.9L482.5 650L483.6 675.6L484.8 646.8L485.5 679.1L486.2 646.4L486.9 691.6L488 645.1L488.7 681.3L489.4 647.1L490.1 693.8L491.1 649.4L491.8 699.5L492.6 651.6L493.3 701.9L494.1 660.6L494.8 704.3L495.2 655.3L495.5 705L495.9 669.3L496.9 699.8L497.7 665.2L498.8 707.8L499.8 669.8L500.8 709.4L501.5 670.8L502.6 705.7L503.3 666.4L504.4 712.4L505.4 669.2L506.1 703.3L506.7 677.9L507.8 712.1L508.7 676L509 716.1L509.3 669.1L509.7 709.4L510.6 682.7L511.7 720.8L512.7 675.7L513.6 724.2L514.4 686.2L515.1 726.9L515.9 689.8L516.6 717.5L517.6 695.7L518.5 733L519.4 687.8L520.2 728.1L520.9 690.5L522 727.2L522.9 693.9L523 694.1L523.2 740.9L524 730.2L525.1 696.5L525.9 744L527 707L527.7 735.9L528.3 710L529.5 739.5L530.2 709.9L531.2 749.3L532 714.3L532.6 741.4L533.5 716.9L534.4 748.8L535.2 707.7L535.3 753.4L535.6 707.8L536 745.8L537.1 715.6L537.8 737.6L539 709.1L539.7 733.3L540.5 707.3L541.6 733.1L542.3 703.3L543 733.8L543.7 702.7L544.7 730L545.7 692.7L546.4 729L547.2 690.4L547.8 724.4L548.8 695.7L549.7 728.5L550.5 680.1L550.6 688.8L550.8 727.1L551.8 711.4L552.8 688.7L553.9 710.2L555 678.5L556 715L557 674.5L558 701.9L558.8 667.8L559.7 706.8L560.6 661.8L561.4 693.9L562.1 659.1L563.3 695.9L564.2 663.3L564.3 696.7L564.6 655.3L565 690.3L566.1 657.4L567.1 690.1L567.8 659.5L568.6 685.1L569.6 648.5L570.5 692.1L571.2 655.4L572.3 685.8L573 655.8L574 689.4L575 647.8L575.3 688.4L575.6 641.4L575.9 684.5L576.9 652.7L578 688L578.9 655.3L579.7 685.8L580.8 654L581.5 697.7L582.5 664.5L583.6 691.5L584.4 656.5L585.3 691.8L585.9 659.1L586.8 699.7L587.8 673.1L588.9 708.8L590.1 666L591 708.2L591.8 675.7L591.9 713.3L592.2 669.1L592.5 712.8L593.4 667.5L594.2 711.4L595.1 665.9L595.9 710L596.6 671.6L597.7 696.3L598.5 666.6L599.1 699.3L599.8 661.1L600.8 702L601.9 659L602.8 699L603.5 669.4L604.2 703L605 659.2L606 689.1L606.7 661.5L607.8 690.9L608.5 652.5L608.7 652.8L608.8 699.5L609.5 691L610.3 654.4L611.4 692.6L612.5 656.5L613.3 693.5L614.2 669.8L615.2 705.2L616 660L616.8 703.6L617.5 668.6L618.1 698.5L618.9 663L620 701.6L621 673.4L621.8 705.9L622.6 666.7L623.7 712.5L624.3 668.4L625.4 709.4L626.1 678.2L627 715.4L627.8 671.8L628.1 679.4L628.1 716.1L629.2 714.4L630 668.9L631.1 707.4L632.1 676.8L632.9 701.3L633.9 672.5L634.6 702.7L635.5 669.2L636.3 698.8L637.2 667.1L638 701.2L638.9 657L639.8 702.1L640.4 664.1L641.1 695.7L641.9 653.1L643 685.6L644 654L644.4 696.7L644.7 649.7L644.8 689.2L645.5 657.3L646.5 688.2L647.3 659.3L648.1 688.1L648.8 657.7L649.6 685.2L650.5 660.3L651.2 691.7L652.4 660.3L652.6 693.9L652.9 649.7L653 690.6L653.8 661.4L654.9 691.7L655.9 671L656.7 710.3L657.7 668.5L658.8 706.8L659.9 685.9L661 727.5L661.8 688.1L662.4 722.5L663.6 703L663.7 738.2L664 691.2L664.4 738.7L665.3 691.5L665.9 730.7L667 701.2L667.8 730.5L668.6 692.2L669.6 731.3L670.4 702.4L671.3 737.9L672.1 702.3L672.8 745.4L673.9 693.2L674.5 740.7L675.5 708.2L676.2 748.2L677.2 693.9L677.5 749.2L677.8 693.9L678 733.8L679 697.2L679.7 732L680.4 693L681.2 731.3L682.2 696.9L683.3 714.1L683.8 682.9L684 691.5L684.1 718.8L684.9 713.6L685.5 679.9L686.3 711.4L687.1 681.3L687.9 711.2L689 676.5L689.7 711.5L690.4 671.4L691.4 700.3L692.1 677L693 707.3L694 665.2L694.9 695.8L694.9 663.6L695.2 705L696 672.2L696.7 701.7L697.5 672L698.4 713L699.4 683.9L700.4 715.9L701.1 683.8L702.3 727.1L703.2 699.7L704 721.6L704.7 705.7L705.8 729.7L705.9 699.5L706.2 738.2L706.7 700.1L707.6 740.1L708.6 712L709.7 736.8L710.8 711.2L711.6 736.5L712.4 705L713.3 736.8L714.4 706.8L715.3 748.9L716.4 711.3L717.2 751.1L718.3 713L719.2 746.8L719.9 714.9L721.1 755.4L721.7 720.7L722.5 746.1L723.4 714.4L724 753.1L724.7 727.4L725.3 760.3L725.6 716.1L725.7 760.7L726.8 728L727.4 754L728.2 718.2L728.9 752.8L729.9 728.5L730.7 756.6L731.6 720.8L732.7 767.7L733.5 722.2L734.6 760.2L735.3 723.5L735.9 765.9L736.7 728.1L737.8 772.7L738.9 737.9L739.7 764.3L740.8 731.7L742 776.9L742.9 739.2L743.6 778.6L744.4 730.4L745.2 771.5L746.3 735.6L747.4 782.4L747.4 778.5L747.7 732.6L748.5 741.6L749.5 768.6L750.5 733L751.6 762.7L752.3 726.1L753.3 767.8L754.2 729.8L755.2 759.7L756.1 721L757.1 756L758.3 718.1L759.2 760.2L759.8 719.9L760.7 752.8L761.6 718.9L762.6 754.4L763.3 711.5L764 757.5L764.3 710.5L764.4 744.5L765.2 721.2L766.1 754.2L766.8 709.8L767.9 740.1L768.8 703.6L770 736.9L770.7 705.7L771.5 745.8L772.4 708.9L773 743.3L773.9 701.7L775 740.2L775.8 698.5L776.5 737.9L777.6 696L778.2 723.2L779.4 688.6L780.1 723.4L781.1 690.6L782.1 718.1L783.2 683.1L783.4 727.1L783.7 682.9L784.2 723.5L785.3 689.1L786.3 728.8L787.4 690.6L788.4 730L789.5 688.7L790.2 720.4L790.9 693.3L791.9 727.7L793 690L793.8 721.2L794.8 694.7L795.9 721.5L796.7 697.6L797.4 726L798.2 695.8L798.9 723.5L799.9 697.2L800.8 725L801.9 694.2L802.7 738.2L802.9 725.5L803 691.2L803.9 697.4L804.9 731.1L806 702.8L807 739.4L808.1 694.3L809.2 740L810.2 699.5L810.9 732.2L812 705.3L812.8 741L813.8 705L814.6 731.8L815.6 703.7L816.8 734.6L817.6 699.7L818.6 731.8L819.6 706.9L820.6 739.5L821.3 706.5L822.1 743.7L822.1 743.7L822.4 702.2L823.2 702.1L824.3 732.4L825.3 701.9L826 735.5L827.1 708.3L828.2 735.6L829 709.9L829.9 736.6L830.6 701.4L831.8 738.7L832.5 708.8L833.3 739.6L834.4 701L835.3 736.6L836 700.8L837.1 732.2L838.2 704.8L839.2 742L840 700.4L840.8 739.3L842 704.2L843.1 733.9L843.9 705.3L845 741.4L845.9 703.6L846.6 736.6L847.6 709L848.7 741L849.6 702L849.7 740.9L850 699.5L850.8 741.4L851.7 711.1L852.8 733.2L853.9 706.1L854.6 740.2L855.4 702.7L856.3 743.8L857.1 710.7L858.2 738.4L859 714.8L859.6 738.2L860.5 705.7L861.6 737.5L862.3 709.5L863.1 746.7L864.2 718.6L865.2 741.8L866.1 718.3L866.9 740.4L867.9 713L868.7 749L869.1 710.5L869.4 749.2L869.4 709.9L870.6 746.8L871.4 717.3L872.4 737.1L873.5 711.5L874.5 740.7L875.4 705L876.1 728L877 696.9L877.8 730.4L878.5 702.5L879.6 723.5L880.3 698.3L881.2 725.4L882.2 697.4L883 717.4L884 685L884.9 715.5L886.1 687L886.9 721.2L887.8 685.6L888.4 718.8L888.7 677.4L888.7 707.2L889.4 687.9L890.4 712.4L891.4 675.4" stroke="#0000ff" stroke-width="3.4" fill="none" stroke-linejoin="round"/>
<path d="M59 796.4L61.6 796.4L67.8 800.8L73 822.7L76.6 801.6L81 798.1L89.7 803.4L95.9 822.7L98.5 808.7L102.9 817.5L110.8 807.8L115.2 810.4L120.5 822.7L124 808.7L129.2 812.2L136.3 803.4L141.5 810.4L146.8 812.2L152.1 808.7L157.3 809.6L162.6 805.2L166.1 801.6L174.9 804.3L181.9 799.9L189 796.4L194.2 801.6L197.7 822.7L201.3 810.4L210 806.9L219 801.6L226 796.4L229.5 799.9L234.8 821L237.4 806.9L240.1 819.2L243.6 801.6L247.1 817.5L250.6 809.6L254.1 817.5L259.4 806.9L263.8 812.2L268.2 821L271.7 799.9L277 796.4L284 801.6L291 800.8L296.3 821L299.8 794.6L303.3 793.7L308.6 805.2L312.1 819.2L317.3 817.5L320.9 805.2L327.9 801.6L334.9 798.1L340.2 800.8L345.4 808.7L349 821L352.5 806.9L356 805.2L359.5 819.2L364.8 803.4L371.8 806.9L374.7 803.7L379.3 817.7L385.2 799L392.2 785L395.7 745.2L397.6 733.5L400.4 752.2L403.9 806L407.4 775.6L412.1 785L416.7 778L420.2 789.6L426.1 785L431.9 794.3L437.8 782.6L444.8 789.6L450.6 779L455 778L458.8 779.1L463.5 789.6L470 794.3L473 788.3L477.2 800.4L485 787.1L493.1 798L500.7 785.1L504.8 795L509 786.4L512.4 799.5L521.5 785.1L529.6 799.1L537.3 790.1L545.1 784.1L550.3 798.3L554.6 784.8L559.7 795L565.5 786.4L571.3 794.2L577.5 785.9L585.7 797.8L593.3 796.3L596.8 790.7L605.9 785.7L613.5 794.9L621.1 799.2L627 785.1L631.7 787.9L639.5 796.9L649.3 789.1L657.1 795.9L662.3 800.5L671.5 785.7L676 795.1L680.3 786.3L685 798L690.3 789.4L694.1 801L702.1 787.1L711.9 800.3L715.1 786.9L722.6 787.4L726.8 799.1L730.3 787.4L735.8 798.8L745.1 796.2L754.1 786.7L763.2 796L768.3 785.4L773 797.5L777.6 789.7L781.1 797.5L789.9 794.4L797.9 786L806.2 795.4L811.5 788.4L820.5 795.6L827.1 795L833.9 790.8L838.8 794.2L846.8 788.3L853.5 798.1L860 787L864.3 795.3L872.6 785.4L878.6 786L884.4 794.5L896 792.5" stroke="#ff0000" stroke-width="5" fill="none" stroke-linejoin="round" stroke-linecap="round"/>
<path d="M59 827.1L61.6 827.1L66.9 828.9L70.4 829.8L73 822.7L76.6 833.3L81 819.2L85.3 836.8L89.7 824.5L95 835L99.4 824.5L102.9 831.5L107.3 821L111.7 822.7L116.1 833.3L121.3 822.7L125.7 831.5L131 828L133.6 833.3L138 822.7L144.2 833.3L148.6 820.1L152.1 826.2L156.5 805.2L159.1 810.4L160.9 831.5L164.4 826.2L167.9 829.8L170.5 836.8L174 826.2L178.4 842.1L185.4 821L189 824.5L192.5 831.5L196 826.2L199.5 836.8L203 813.9L208.3 838.6L213.5 813.9L219 821L225.1 838.6L229.5 826.2L234.8 833.3L240.1 824.5L244.5 828L248.9 815.7L253.2 835L258.5 813.9L262.9 833.3L266.4 821L269.9 836.8L275.2 817.5L279.6 836.8L289.2 817.5L293.6 835L303.3 819.2L307.7 828L310.3 819.2L314.7 829.8L320 821L324.4 835L327 830.6L331.4 840.3L335.8 815.7L340.2 833.3L343.7 824.5L350.7 825.4L357.7 829.8L366.5 805L370.5 838L373.5 790L376.5 761.6L379.3 787.3L382.9 782.6L385.2 778L387.5 710.1L389.9 640L392 608L393.5 607L396.5 622L399.5 593L401 592L403.5 603L406.5 583L408 583L409 640L410.9 686.8L414.4 710.1L417.9 768.6L419.1 789.6L422.6 780.3L426.1 803.7L429.6 843.4L431.9 843.4L434.3 827L440.1 806L444.8 820L451.8 778L457.6 803.7L463.5 792L470 808.3L473.1 807.2L478.7 810L484.2 808.6L489.7 812.8L495.2 815.5L500.8 815L506.3 818.3L511.8 826.6L517.3 818.3L522.9 821.1L528.4 826.6L533.9 815.5L539.4 821.1L544.9 819.7L550.5 823.8L556 832.1L561.5 829.3L567 833.5L572.6 829.3L578.1 830.7L583.6 826.6L589.1 829.3L594.7 823.8L600.2 834.9L605.7 837.6L611.2 841.8L616.7 843.2L622.3 829.3L627.8 823.8L633.3 829.3L638.8 832.1L644.4 826.6L649.9 840.4L655.4 829.3L660.9 832.1L666.5 829.3L672 830.7L677.5 826.6L675.5 826.6L681.1 829.3L686.6 823.8L692.1 829.3L697.6 826.6L703.2 830.7L708.7 823.8L714.2 822.4L719.8 826.6L725.3 825.2L730.8 826.6L739.1 828L743.3 834.9L747.4 818.3L751.6 837.6L755.7 829.3L761.2 832.1L766.8 826.6L770.9 840.4L776.4 829.3L783.4 828L788.9 821.1L794.4 818.3L799.9 821.1L805.5 818.3L811 814.1L816.5 821.1L822.1 814.1L829 815.5L834.5 812.8L840 818.3L846.9 818.3L852.5 829.3L858 834.9L863.5 847.3L869.1 834.9L874.6 826.6L880.1 832.1L884.3 818.3L888.4 815.5L892.6 832.1" stroke="#000" stroke-width="5.8" fill="none" stroke-linejoin="round" stroke-linecap="round"/></g>
<rect x="59" y="512" width="832" height="347" fill="none" stroke="#262626" stroke-width="4"/>
<path d="M267.1 859V844.8M267.1 512V526.2M475.1 859V844.8M475.1 512V526.2M683.1 859V844.8M683.1 512V526.2M59 828.1H73.5M891 828.1H876.5M59 764.85H73.5M891 764.85H876.5M59 701.6H73.5M891 701.6H876.5M59 638.35H73.5M891 638.35H876.5M59 575.1H73.5M891 575.1H876.5" stroke="#262626" stroke-width="4" fill="none"/>
<g font-size="32" fill="#262626"><text x="58.5" y="904.9" text-anchor="middle">5.8</text>
<text x="266.5" y="904.9" text-anchor="middle">5.9</text>
<text x="474.5" y="904.9" text-anchor="middle">6</text>
<text x="682.5" y="904.9" text-anchor="middle">6.1</text>
<text x="890.5" y="904.9" text-anchor="middle">6.2</text>
<text x="45.2" y="839.9" text-anchor="end">0</text>
<text x="45.2" y="776.6" text-anchor="end">0.1</text>
<text x="45.2" y="713.4" text-anchor="end">0.2</text>
<text x="45.2" y="650.1" text-anchor="end">0.3</text>
<text x="45.2" y="586.9" text-anchor="end">0.4</text></g>
<text x="473.9" y="934" font-size="38" text-anchor="middle" textLength="127.6" lengthAdjust="spacing" fill="#262626">Time[s]</text>
<g font-size="32.5" fill="#000">
<path d="M88.8 560.8H169.6" stroke="#0000ff" stroke-width="2.6"/>
<text x="174.5" y="565.0">U</text><text x="199.0" y="581.2" font-size="26">Loop</text><text x="257.1" y="565.0">[V]</text>
<path d="M353.3 560.7H433.8" stroke="#ff0000" stroke-width="5.4"/>
<text x="440.0" y="565.0" textLength="352.7" lengthAdjust="spacing">Amplitude[V] of 880Hz U</text><text x="793.7" y="581.2" font-size="26">Loop</text><text x="851.8" y="565.0"></text>
<path d="M88.9 615.7H169.8" stroke="#000" stroke-width="5.4"/>
<text x="176.2" y="634.0" font-family="Liberation Serif" font-style="italic" font-size="34">&#948;</text><text x="190.7" y="633.6">W</text><text x="221.5" y="617.3" font-size="26">2</text><text x="236.9" y="633.6">/</text><text x="245.8" y="634.0" font-family="Liberation Serif" font-style="italic" font-size="34">&#948;</text><text x="260.8" y="633.6">t[a.u.]</text>
</g>
<text x="92" y="685.7" font-weight="bold" font-size="37.5" fill="#000">(b)</text>
</svg>
</body></html>
